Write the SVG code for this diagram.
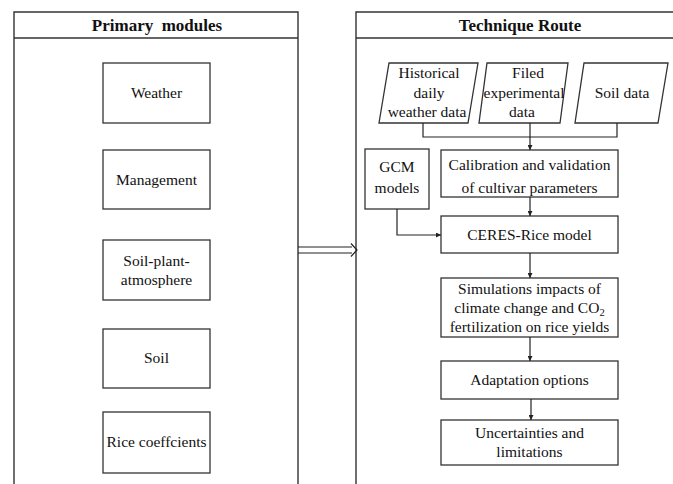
<svg xmlns="http://www.w3.org/2000/svg" width="673" height="484" viewBox="0 0 673 484">
<style>
.panel{fill:none;stroke:#333;stroke-width:1.4}
.box{fill:#fff;stroke:#333;stroke-width:1.3}
.t{font-family:'Liberation Serif','Tinos','DejaVu Serif',serif;font-size:15.5px;fill:#111;text-anchor:middle}
.h{font-family:'Liberation Serif','Tinos','DejaVu Serif',serif;font-size:17px;font-weight:bold;fill:#111;text-anchor:middle;white-space:pre}
.c{fill:none;stroke:#222;stroke-width:1.2}
</style>
<defs>
<marker id="ah" viewBox="0 0 8 8" refX="8" refY="4" markerWidth="5" markerHeight="5" orient="auto" markerUnits="userSpaceOnUse">
<path d="M0,0 L8,4 L0,8 z" fill="#222"/>
</marker>
</defs>
<rect width="673" height="484" fill="#fff"/>
<g id="left-panel">
<path class="panel" d="M14,484 V12 H298 V484 M14,38 H298"/>
<text class="h" x="157" y="31" xml:space="preserve">Primary  modules</text>
</g>
<g id="right-panel">
<path class="panel" d="M356,484 V12 H673 M356,38 H673"/>
<text class="h" x="520" y="31">Technique Route</text>
</g>
<g id="weather"><rect class="box" x="103" y="63" width="107" height="60"/><text class="t" x="156.5" y="98">Weather</text></g>
<g id="management"><rect class="box" x="103" y="150" width="107" height="59"/><text class="t" x="156.5" y="185">Management</text></g>
<g id="soil-plant"><rect class="box" x="103" y="240" width="107" height="60"/><text class="t" x="156.5" y="266">Soil-plant-</text><text class="t" x="156.5" y="285">atmosphere</text></g>
<g id="soil"><rect class="box" x="103" y="329" width="107" height="59"/><text class="t" x="156.5" y="363">Soil</text></g>
<g id="rice"><rect class="box" x="103" y="412" width="107" height="61"/><text class="t" x="156.5" y="447">Rice coeffcients</text></g>
<g id="hist"><polygon class="box" points="389,63 478,63 468,123 379,123"/><text class="t" x="429" y="78">Historical</text><text class="t" x="429" y="98">daily</text><text class="t" x="427" y="117">weather data</text></g>
<g id="filed"><polygon class="box" points="487,63 568,63 560,123 479,123"/><text class="t" x="528" y="78">Filed</text><text class="t" x="524" y="98">experimental</text><text class="t" x="522" y="117">data</text></g>
<g id="soildata"><polygon class="box" points="584,63 668,63 658,123 575,123"/><text class="t" x="622" y="98">Soil data</text></g>
<g id="gcm"><rect class="box" x="365" y="149" width="64" height="60"/><text class="t" x="397" y="172">GCM</text><text class="t" x="397" y="193">models</text></g>
<g id="calib"><rect class="box" x="441" y="150" width="177" height="47"/><text class="t" x="529.5" y="170">Calibration and validation</text><text class="t" x="529.5" y="193">of cultivar parameters</text></g>
<g id="ceres"><rect class="box" x="441" y="216" width="177" height="37"/><text class="t" x="529.5" y="240">CERES-Rice model</text></g>
<g id="sim"><rect class="box" x="441" y="278" width="177" height="59"/><text class="t" x="529.5" y="294">Simulations impacts of</text><text class="t" x="529.5" y="313">climate change and CO<tspan font-size="10.5" dy="3">2</tspan></text><text class="t" x="529.5" y="332">fertilization on rice yields</text></g>
<g id="adapt"><rect class="box" x="441" y="361" width="177" height="38"/><text class="t" x="529.5" y="385">Adaptation options</text></g>
<g id="uncert"><rect class="box" x="441" y="420" width="177" height="45"/><text class="t" x="529.5" y="438">Uncertainties and</text><text class="t" x="529.5" y="457">limitations</text></g>
<g id="connectors">
<path class="c" d="M423,123 V137 H617 V123"/>
<path class="c" d="M530,123 V150" marker-end="url(#ah)"/>
<path class="c" d="M530,197 V216" marker-end="url(#ah)"/>
<path class="c" d="M397,209 V235 H441" marker-end="url(#ah)"/>
<path class="c" d="M530,253 V278" marker-end="url(#ah)"/>
<path class="c" d="M530,337 V361" marker-end="url(#ah)"/>
<path class="c" d="M531,399 V420" marker-end="url(#ah)"/>
<path class="c" d="M298,247 H352 M298,253 H352 M351,243.5 L357,250 L351,256.5"/>
</g>
</svg>
